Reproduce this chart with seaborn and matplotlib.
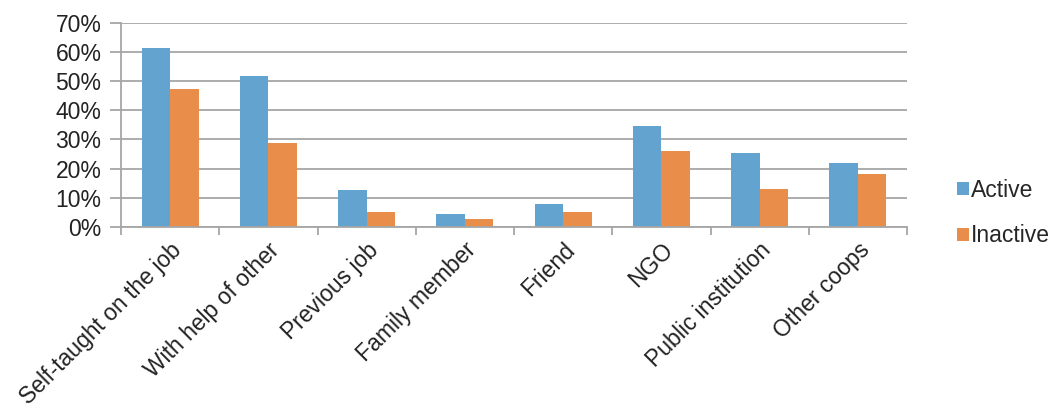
import matplotlib
matplotlib.use("Agg")
import matplotlib.pyplot as plt
import matplotlib.transforms as mtransforms
from matplotlib.patches import Patch
import seaborn as sns
import pandas as pd
import numpy as np

categories = ["Self-taught on the job", "With help of other", "Previous job", "Family member",
              "Friend", "NGO", "Public institution", "Other coops"]
active = [61.5, 51.9, 12.6, 4.5, 7.8, 34.5, 25.5, 22.0]
inactive = [47.3, 28.7, 5.0, 2.6, 5.0, 25.9, 13.0, 18.3]
series = ["Active", "Inactive"]
y_ticks = [0, 10, 20, 30, 40, 50, 60, 70]
y_tick_labels = ["0%", "10%", "20%", "30%", "40%", "50%", "60%", "70%"]

colors = {"Active": "#62A3CF", "Inactive": "#E98D4B"}

df = pd.DataFrame({
    "category": categories * 2,
    "series": [series[0]] * len(categories) + [series[1]] * len(categories),
    "value": active + inactive,
})

sns.set_theme(style="white")
plt.rcParams["font.family"] = ["Liberation Sans", "DejaVu Sans"]

FS = 16.5
fig = plt.figure(figsize=(10.55, 4.09), dpi=100)
ax = fig.add_axes([121 / 1055, 1 - 227 / 409, (907 - 121) / 1055, (227 - 22.7) / 409])

sns.barplot(data=df, x="category", y="value", hue="series", palette=colors,
            width=0.58, ax=ax, legend=False, saturation=1, linewidth=0, gap=0)

grid_color = "#A6A6A6"
ax.set_ylim(0, 70)
ax.set_xlim(-0.5, len(categories) - 0.5)
ax.set_yticks(y_ticks)
ax.set_yticklabels(y_tick_labels, fontsize=FS, color="#222222")
ax.yaxis.grid(True, color=grid_color, linewidth=1.3)
ax.set_axisbelow(True)
ax.tick_params(axis="y", length=8, width=1.3, color=grid_color, pad=6, left=True)

ax.set_xticks(range(len(categories)))
ax.set_xticklabels(categories, fontsize=FS, color="#222222", rotation=45,
                   ha="right", va="center", rotation_mode="anchor")
ax.set_xticks(np.arange(-0.5, len(categories), 1.0), minor=True)
ax.tick_params(axis="x", which="major", length=0, pad=14)
ax.tick_params(axis="x", which="minor", length=6, width=1.3, color=grid_color, bottom=True)
offset = mtransforms.ScaledTranslation(8 / 100, 0, fig.dpi_scale_trans)
for lbl in ax.get_xticklabels():
    lbl.set_transform(lbl.get_transform() + offset)

ax.set_xlabel("")
ax.set_ylabel("")
for s in ["top", "right"]:
    ax.spines[s].set_visible(False)
for s in ["left", "bottom"]:
    ax.spines[s].set_color(grid_color)
    ax.spines[s].set_linewidth(1.3)

handles = [Patch(facecolor=colors[s], edgecolor="none", label=s) for s in series]
fig.legend(handles=handles, loc="center left", bbox_to_anchor=(948 / 1055, 1 - 213 / 409),
           frameon=False, fontsize=FS, handlelength=0.5, handleheight=0.5,
           handletextpad=0.1, labelspacing=1.0, borderaxespad=0)

fig.savefig("out.png", dpi=100)
